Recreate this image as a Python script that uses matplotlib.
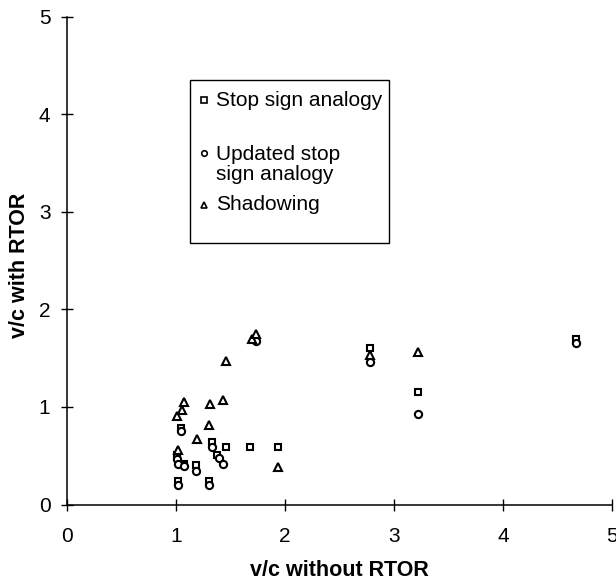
import matplotlib
matplotlib.use('Agg')
import matplotlib.pyplot as plt
from matplotlib.patches import Rectangle

# Data (v/c without vs. with RTOR)
x_stop = [1.01, 1.02, 1.04, 1.07, 1.18, 1.30, 1.33, 1.37, 1.46, 1.68, 1.73,
          1.93, 2.78, 3.22, 4.67]
y_stop = [0.51, 0.24, 0.78, 0.42, 0.40, 0.24, 0.64, 0.51, 0.59, 0.59, 1.70,
          0.59, 1.60, 1.15, 1.70]

x_upd = [1.01, 1.02, 1.02, 1.04, 1.07, 1.18, 1.30, 1.33, 1.39, 1.43, 1.73,
         2.78, 3.22, 4.67]
y_upd = [0.47, 0.42, 0.20, 0.75, 0.39, 0.34, 0.20, 0.59, 0.48, 0.42, 1.68,
         1.46, 0.93, 1.66]

x_shad = [1.01, 1.02, 1.05, 1.07, 1.19, 1.30, 1.31, 1.43, 1.46, 1.70, 1.73,
          1.93, 2.78, 3.22]
y_shad = [0.91, 0.56, 0.97, 1.05, 0.67, 0.82, 1.03, 1.07, 1.47, 1.70, 1.75,
          0.38, 1.53, 1.56]

labels = ['Stop sign analogy', 'Updated stop\nsign analogy', 'Shadowing']
ticks = [0, 1, 2, 3, 4, 5]

plt.rcParams['font.family'] = ['Liberation Sans', 'DejaVu Sans']

fig = plt.figure(figsize=(6.16, 5.83), dpi=100)
ax = fig.add_axes([0.1095, 0.1346, 0.8835, 0.8368])

mk = dict(linestyle='none', markerfacecolor='white', markeredgecolor='black',
          markeredgewidth=1.5, clip_on=False)
ax.plot(x_stop, y_stop, marker='s', markersize=5.0, **mk)
ax.plot(x_upd, y_upd, marker='o', markersize=5.2, **mk)
ax.plot(x_shad, y_shad, marker='^', markersize=5.8, **mk)

ax.set_xlim(0, 5)
ax.set_ylim(0, 5)
ax.set_xticks(ticks)
ax.set_yticks(ticks)
for side in ('top', 'right'):
    ax.spines[side].set_visible(False)
for side in ('left', 'bottom'):
    ax.spines[side].set_linewidth(1.1)
ax.tick_params(direction='inout', length=8.5, width=1.0, labelsize=15)
ax.tick_params(axis='x', pad=12)
ax.tick_params(axis='y', pad=8)

ax.set_xlabel('v/c without RTOR', fontsize=15.5, fontweight='bold')
ax.set_ylabel('v/c with RTOR', fontsize=15.5, fontweight='bold')
ax.xaxis.set_label_coords(0.5, -0.113)
ax.yaxis.set_label_coords(-0.069, 0.49)

# Legend box, laid out like the original (marker on first text line)
ax.add_patch(Rectangle((0.226, 0.536), 0.365, 0.334, transform=ax.transAxes,
                       facecolor='white', edgecolor='black', linewidth=1.0,
                       zorder=5))
leg_y = [0.829, 0.720, 0.614]
leg_text_y = [0.829, 0.697, 0.614]
for m, ms, yy, ty, lab in zip(['s', 'o', '^'], [3.8, 4.0, 4.4], leg_y,
                              leg_text_y, labels):
    ax.plot([0.250], [yy], marker=m, markersize=ms, linestyle='none',
            markerfacecolor='white', markeredgecolor='black',
            markeredgewidth=1.2, transform=ax.transAxes, zorder=6)
    ax.text(0.273, ty, lab, transform=ax.transAxes, fontsize=15,
            va='center', ha='left', linespacing=1.12, zorder=6)

fig.savefig('out.png', dpi=100)
